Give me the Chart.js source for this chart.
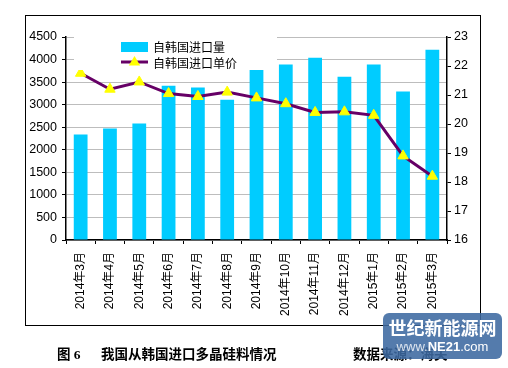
<!DOCTYPE html>
<html>
<head>
<meta charset="utf-8">
<script src="https://cdn.jsdelivr.net/npm/chart.js@4/dist/chart.umd.min.js"></script>
<style>
  html, body { margin: 0; padding: 0; background: #fff; }
  #wrap { position: relative; width: 508px; height: 368px; overflow: hidden; }
  #c { position: absolute; left: 0; top: 0; }
  #frame { position: absolute; left: 25px; top: 15px; width: 454px; height: 309px; border: 1.5px solid #000; pointer-events: none; }
  .cap { position: absolute; top: 343px; font: bold 13.5px "Liberation Serif", "Noto Sans CJK SC", serif; color: #000; white-space: nowrap; }
  #wm { position: absolute; left: 383px; top: 313px; width: 119px; height: 46px; background: rgba(60,105,160,0.88); border-radius: 6px; color: #fff; text-align: center; font-family: "Noto Sans CJK SC", sans-serif; }
  #wm .a { font-size: 18px; font-weight: bold; line-height: 24px; margin-top: 2px; letter-spacing: 0px; }
  #wm .b { font-size: 13px; line-height: 16px; font-family: "Liberation Sans", Arial, sans-serif; }
</style>
</head>
<body>
<div id="wrap">
  <canvas id="c" width="508" height="368"></canvas>
  <div id="frame"></div>
  <div class="cap" style="left:57px;">图 6</div>
  <div class="cap" style="left:101px;">我国从韩国进口多晶硅料情况</div>
  <div class="cap" style="left:353px;">数据来源：海关</div>
  <div id="wm"><div class="a">世纪新能源网</div><div class="b"><span style="opacity:0.8">www.</span><b>NE21</b>.com</div></div>
</div>
<script>
const categories = ["2014年3月","2014年4月","2014年5月","2014年6月","2014年7月","2014年8月","2014年9月","2014年10月","2014年11月","2014年12月","2015年1月","2015年2月","2015年3月"];
const importVolume = [2340, 2470, 2580, 3420, 3380, 3110, 3780, 3890, 4040, 3620, 3890, 3290, 4220];
const importPrice = [21.75, 21.2, 21.45, 21.05, 20.95, 21.1, 20.9, 20.7, 20.4, 20.42, 20.3, 18.9, 18.2];
const volumeLabel = "自韩国进口量";
const priceLabel = "自韩国进口单价";
const leftTicks = [0, 4500, 500];
const rightTicks = [16, 23, 1];

const FONT = "'Liberation Sans', Arial, 'Noto Sans CJK SC', sans-serif";

const legendPlugin = {
  id: 'innerLegend',
  afterDatasetsDraw(chart) {
    const ctx = chart.ctx;
    ctx.save();
    ctx.fillStyle = '#fff';
    ctx.fillRect(74, 33, 203, 37);
    const ds = chart.data.datasets;
    const bar = ds.find(d => d.type === 'bar');
    const line = ds.find(d => d.type === 'line');
    ctx.fillStyle = bar.backgroundColor;
    ctx.fillRect(121, 42, 27, 10);
    ctx.strokeStyle = line.borderColor;
    ctx.lineWidth = 3;
    ctx.beginPath();
    ctx.moveTo(121, 62); ctx.lineTo(148, 62); ctx.stroke();
    ctx.fillStyle = line.pointBackgroundColor;
    const r = 6, cx = 134.5, cy = 62;
    ctx.beginPath();
    ctx.moveTo(cx, cy - r);
    ctx.lineTo(cx + r * 0.95, cy + r * 0.6);
    ctx.lineTo(cx - r * 0.95, cy + r * 0.6);
    ctx.closePath();
    ctx.fill();
    ctx.fillStyle = '#000';
    ctx.font = "12px 'Noto Sans CJK SC', sans-serif";
    ctx.textBaseline = 'middle';
    ctx.textAlign = 'left';
    ctx.fillText(bar.label, 153, 47);
    ctx.fillText(line.label, 153, 63);
    ctx.restore();
  }
};

new Chart(document.getElementById('c'), {
  data: {
    labels: categories,
    datasets: [
      {
        type: 'line', label: priceLabel, data: importPrice, yAxisID: 'y1', order: 0,
        borderColor: '#660066', borderWidth: 3, tension: 0,
        pointStyle: 'triangle', pointRadius: 6, pointHoverRadius: 6,
        pointBackgroundColor: '#ffff00', pointBorderColor: '#ffff00', pointBorderWidth: 1
      },
      {
        type: 'bar', label: volumeLabel, data: importVolume, yAxisID: 'y', order: 1,
        backgroundColor: '#00ccff', barPercentage: 0.47, categoryPercentage: 1
      }
    ]
  },
  options: {
    responsive: false, animation: false, devicePixelRatio: 1,
    layout: { padding: { left: 25, right: 28, top: 37, bottom: 43 } },
    plugins: { legend: { display: false }, tooltip: { enabled: false } },
    scales: {
      x: {
        grid: { offset: true, drawOnChartArea: false, color: '#000', tickLength: 4 },
        border: { color: '#000', width: 1.5 },
        ticks: { minRotation: 90, maxRotation: 90, autoSkip: false, color: '#000', padding: 8, font: { size: 12, family: FONT } },
        afterFit(s) { s.height = 85; }
      },
      y: {
        position: 'left', min: leftTicks[0], max: leftTicks[1],
        ticks: { stepSize: leftTicks[2], color: '#000', padding: 5, font: { size: 12.5, family: FONT }, callback: v => String(v) },
        grid: { color: '#bdbdbd', tickColor: '#000', tickLength: 4 },
        border: { color: '#000', width: 1.5 },
        afterFit(s) { s.width = 41; }
      },
      y1: {
        position: 'right', min: rightTicks[0], max: rightTicks[1],
        ticks: { stepSize: rightTicks[2], color: '#000', padding: 3, font: { size: 12.5, family: FONT }, callback: v => String(v) },
        grid: { drawOnChartArea: false, color: '#000', tickLength: 4 },
        border: { color: '#000', width: 1.5 },
        afterFit(s) { s.width = 33; }
      }
    }
  },
  plugins: [legendPlugin]
});
</script>
</body>
</html>
